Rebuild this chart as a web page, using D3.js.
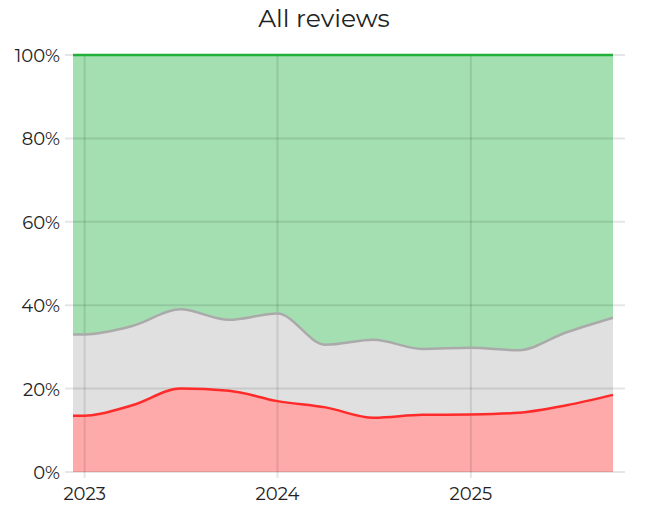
<!DOCTYPE html>
<html><head><meta charset="utf-8">
<script src="https://cdn.jsdelivr.net/npm/d3@7"></script>
<style>body{margin:0;background:#fff}text{font-family:Montserrat,Lato,"Open Sans",sans-serif}</style>
</head><body><svg id="c" width="645" height="513"></svg>
<script>
const dates = ["2022-12-10","2023-01-01","2023-04-01","2023-07-01","2023-10-01","2024-01-01","2024-04-01","2024-07-01","2024-10-01","2025-01-01","2025-04-01","2025-07-01","2025-09-27"];
const negative = [13.5,13.5,16,20,19.5,17,15.5,13,13.7,13.8,14.2,16,18.5];
const neutralTop = [33,33,35,39,36.5,38,30.5,31.7,29.5,29.8,29.2,33.5,37];
const yTicks = [0,20,40,60,80,100];
const xTicks = ["2023-01-01","2024-01-01","2025-01-01"];

const svg = d3.select("#c");
const parse = d3.timeParse("%Y-%m-%d");
const D = dates.map(parse);
const x = d3.scaleTime().domain([D[0], D[D.length-1]]).range([73,613]);
const y = d3.scaleLinear().domain([0,100]).range([472,55]);
const curve = d3.curveMonotoneX;
const idx = d3.range(D.length);

svg.append("text").attr("x",324).attr("y",27).attr("text-anchor","middle").attr("font-size",25).attr("fill","#222").text("All reviews");

// areas
svg.append("path").attr("fill","#a4dfb2").attr("d", d3.area().curve(curve).x(i=>x(D[i])).y0(i=>y(neutralTop[i])).y1(()=>y(100))(idx));
svg.append("path").attr("fill","#e0e0e0").attr("d", d3.area().curve(curve).x(i=>x(D[i])).y0(i=>y(negative[i])).y1(i=>y(neutralTop[i]))(idx));
svg.append("path").attr("fill","#ffaaaa").attr("d", d3.area().curve(curve).x(i=>x(D[i])).y0(y(0)).y1(i=>y(negative[i]))(idx));

// grid
const g = svg.append("g").attr("stroke","#000").attr("stroke-opacity",0.1).attr("stroke-width",2);
yTicks.forEach(t=>g.append("line").attr("x1",65).attr("x2",625).attr("y1",y(t)).attr("y2",y(t)));
xTicks.forEach(t=>g.append("line").attr("x1",x(parse(t))).attr("x2",x(parse(t))).attr("y1",55).attr("y2",478));

// lines
svg.append("path").attr("fill","none").attr("stroke","#aaaaaa").attr("stroke-width",2.5).attr("d", d3.line().curve(curve).x(i=>x(D[i])).y(i=>y(neutralTop[i]))(idx));
svg.append("path").attr("fill","none").attr("stroke","#ff2a2a").attr("stroke-width",2.5).attr("d", d3.line().curve(curve).x(i=>x(D[i])).y(i=>y(negative[i]))(idx));
svg.append("line").attr("stroke","#22b03a").attr("stroke-width",2.5).attr("x1",73).attr("x2",613).attr("y1",y(100)).attr("y2",y(100));

// labels
yTicks.forEach(t=>svg.append("text").attr("x",60).attr("y",y(t)+7).attr("text-anchor","end").attr("font-size",18).attr("fill","#222").text(t+"%"));
xTicks.forEach(t=>svg.append("text").attr("x",x(parse(t))).attr("y",500).attr("text-anchor","middle").attr("font-size",18).attr("fill","#222").text(t.slice(0,4)));
</script></body></html>
